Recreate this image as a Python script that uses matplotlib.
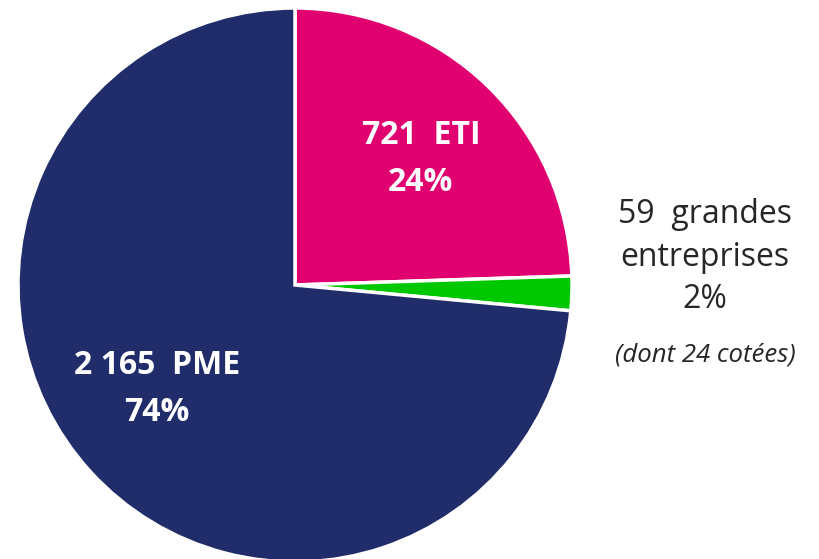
import matplotlib.pyplot as plt

labels = ["721  ETI\n24%", "59  grandes\nentreprises\n2%", "2 165  PME\n74%"]
counts = [721, 59, 2165]
colors = ["#E0006F", "#00C800", "#202D6A"]

plt.rcParams["font.family"] = ["Open Sans", "DejaVu Sans"]

W, H = 819, 559
fig = plt.figure(figsize=(W / 100, H / 100), dpi=100)
ax = fig.add_axes([0, 0, 1, 1])

cx, cy, r = 295, 285, 277
ax.pie(counts, colors=colors, startangle=90, counterclock=False, radius=1,
       wedgeprops=dict(edgecolor="white", linewidth=2.5))
ax.set_aspect("equal")
ax.set_xlim(-cx / r, (W - cx) / r)
ax.set_ylim(-(H - cy) / r, cy / r)
ax.axis("off")


def px(x, y):
    return x / W, 1 - y / H


fig.text(*px(421, 159), labels[0], color="white", fontsize=23, fontweight="bold",
         ha="center", va="center", linespacing=1.55)
fig.text(*px(157, 389), labels[2], color="white", fontsize=23, fontweight="bold",
         ha="center", va="center", linespacing=1.55)
fig.text(*px(705, 257), labels[1], color="#262626", fontsize=23,
         ha="center", va="center", linespacing=1.38)
fig.text(*px(705, 355), "(dont 24 cotées)", color="#262626", fontsize=18.5,
         style="italic", ha="center", va="center")

fig.savefig("out.png", dpi=100)
